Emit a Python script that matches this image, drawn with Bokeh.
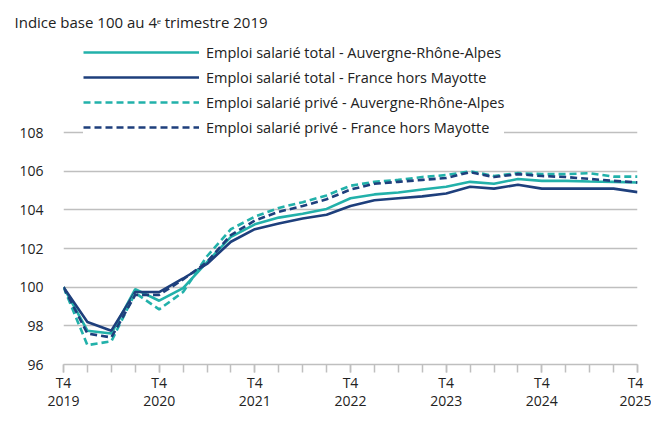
from bokeh.plotting import figure
from bokeh.models import Range1d, FixedTicker, Legend, LegendItem
from bokeh.embed import file_html
from bokeh.resources import INLINE

# ---- data (quarterly index, base 100 = T4 2019) ----
quarters = list(range(25))  # T4 2019 ... T4 2025
total_ara = [100, 97.75, 97.6, 99.9, 99.3, 99.95, 101.3, 102.6, 103.25, 103.6, 103.8, 104.05,
             104.6, 104.8, 104.9, 105.05, 105.2, 105.45, 105.35, 105.6, 105.5, 105.5, 105.47, 105.45, 105.42]
total_fr = [100, 98.2, 97.75, 99.75, 99.75, 100.45, 101.2, 102.35, 103.0, 103.3, 103.55, 103.75,
            104.2, 104.5, 104.6, 104.7, 104.85, 105.2, 105.1, 105.3, 105.1, 105.1, 105.1, 105.1, 104.92]
prive_ara = [100, 97.0, 97.2, 99.7, 98.85, 99.75, 101.6, 103.0, 103.65, 104.1, 104.4, 104.75,
             105.25, 105.45, 105.55, 105.7, 105.8, 106.0, 105.75, 105.9, 105.85, 105.85, 105.9, 105.72, 105.72]
prive_fr = [100, 97.6, 97.4, 99.6, 99.6, 100.4, 101.3, 102.7, 103.45, 103.9, 104.2, 104.55,
            105.05, 105.35, 105.45, 105.55, 105.65, 105.95, 105.7, 105.85, 105.75, 105.7, 105.6, 105.5, 105.42]
tick_positions = [0, 4, 8, 12, 16, 20, 24]
tick_top = ["T4"] * 7
tick_years = ["2019", "2020", "2021", "2022", "2023", "2024", "2025"]
y_ticks = [96, 98, 100, 102, 104, 106, 108]
series_names = ["Emploi salarié total - Auvergne-Rhône-Alpes",
                "Emploi salarié total - France hors Mayotte",
                "Emploi salarié privé - Auvergne-Rhône-Alpes",
                "Emploi salarié privé - France hors Mayotte"]

TEAL = "#22B1AA"
NAVY = "#1E3F7C"
GRID = "#BFBFBF"
TXT = "#222222"
FONT = "Open Sans"

p = figure(width=651, height=412, output_backend="svg", toolbar_location=None,
           x_range=Range1d(0, 24), y_range=Range1d(96, 112.97),
           min_border_left=63, min_border_right=14, min_border_top=36, min_border_bottom=48)
p.outline_line_color = None
p.background_fill_color = "white"
p.border_fill_color = "white"

p.title.text = "Indice base 100 au 4ᵉ trimestre 2019"
p.title.text_font = FONT
p.title.text_font_size = "15px"
p.title.text_font_style = "normal"
p.title.text_color = TXT
p.title.align = "left"
p.title.offset = -49
p.title.standoff = 10

# lines
r1 = p.line(quarters, total_ara, line_color=TEAL, line_width=2.6)
r2 = p.line(quarters, total_fr, line_color=NAVY, line_width=2.6)
r3 = p.line(quarters, prive_ara, line_color=TEAL, line_width=2.6, line_dash="7 4")
r4 = p.line(quarters, prive_fr, line_color=NAVY, line_width=2.6, line_dash="7 4")

# x axis: quarter ticks, two-line labels "T4 / year"
xa = p.xaxis[0]
xa.ticker = FixedTicker(ticks=tick_positions, minor_ticks=quarters)
xa.major_label_overrides = {t: f"{a}\n{b}" for t, a, b in zip(tick_positions, tick_top, tick_years)}
xa.axis_line_color = GRID
xa.axis_line_width = 1.5
xa.major_tick_line_color = GRID
xa.minor_tick_line_color = GRID
xa.major_tick_line_width = 1.5
xa.minor_tick_line_width = 1.5
xa.major_tick_out = 8
xa.major_tick_in = 0
xa.minor_tick_out = 8
xa.minor_tick_in = 0
xa.major_label_standoff = 0
xa.major_label_text_font = FONT
xa.major_label_text_font_size = "14px"
xa.major_label_text_color = TXT
xa.major_label_text_line_height = 0.95

# y axis
ya = p.yaxis[0]
ya.ticker = FixedTicker(ticks=y_ticks)
ya.axis_line_color = None
ya.major_tick_line_color = None
ya.minor_tick_line_color = None
ya.major_tick_out = 0
ya.major_label_standoff = 20
ya.major_label_text_font = FONT
ya.major_label_text_font_size = "14px"
ya.major_label_text_color = TXT

p.xgrid.grid_line_color = None
p.ygrid.ticker = FixedTicker(ticks=y_ticks)
p.ygrid.grid_line_color = GRID
p.ygrid.grid_line_width = 1.5

legend = Legend(items=[LegendItem(label=n, renderers=[r]) for n, r in zip(series_names, [r1, r2, r3, r4])],
                location=(20, 227))
legend.border_line_color = None
legend.background_fill_color = "white"
legend.background_fill_alpha = 1.0
legend.padding = 4
legend.margin = 0
legend.spacing = 5
legend.glyph_width = 116
legend.glyph_height = 20
legend.label_height = 20
legend.label_standoff = 7
legend.label_text_font = FONT
legend.label_text_font_size = "14.5px"
legend.label_text_color = TXT
p.add_layout(legend, "center")

open("out.html", "w").write(file_html(p, INLINE))
